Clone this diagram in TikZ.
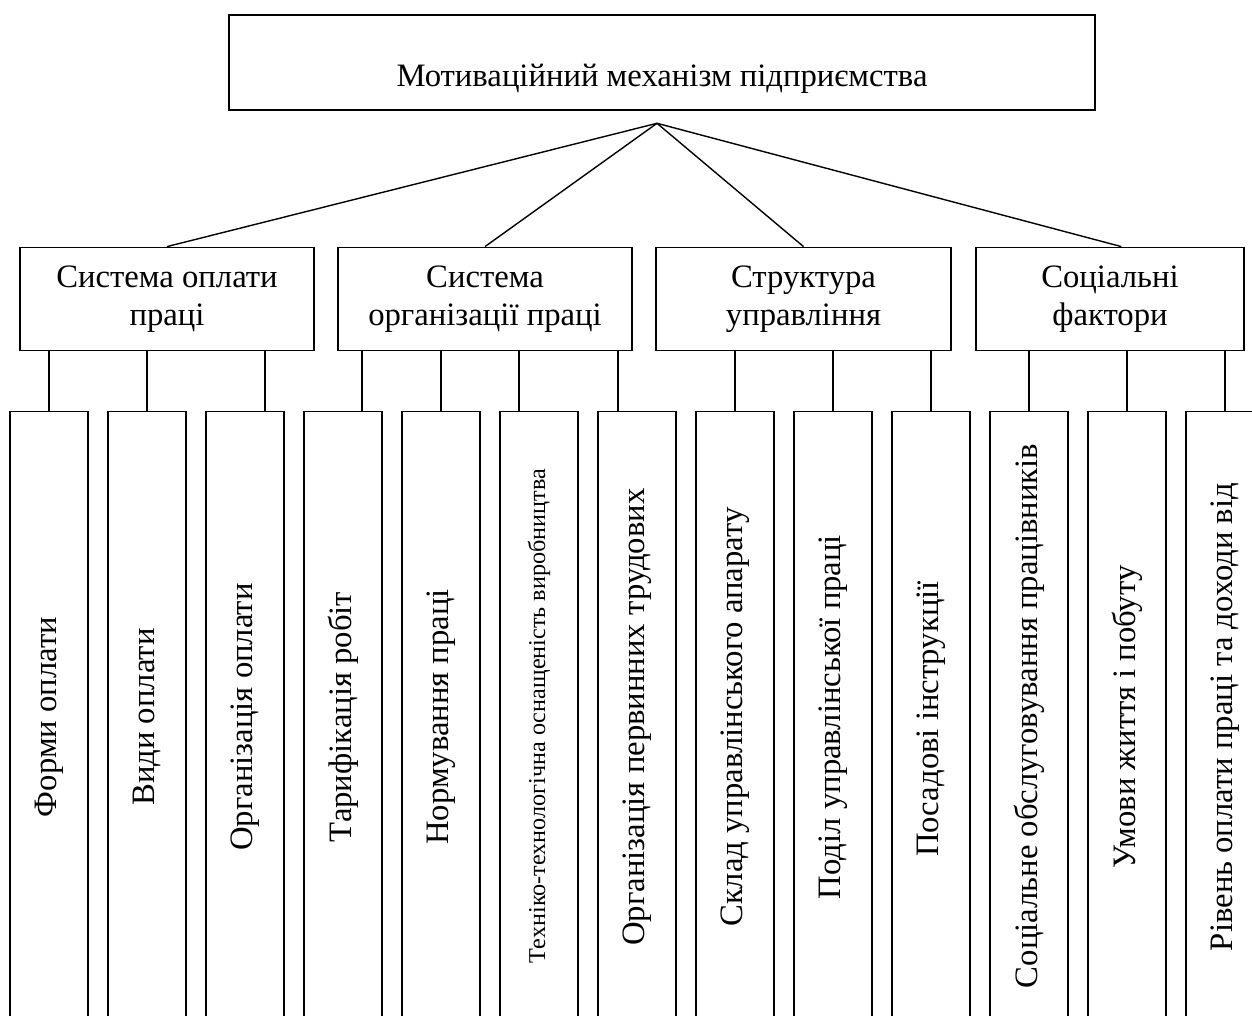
\documentclass[tikz,border=0pt]{standalone}
\usepackage{fontspec}
\setmainfont{Liberation Serif}
\usetikzlibrary{calc}
\tikzset{
  box/.style={draw, line width=1.4pt, rectangle, inner sep=0pt},
  lbox/.style={box, minimum width=78pt, minimum height=700pt, anchor=north},
  vtext/.style={rotate=90, inner sep=0pt, font=\fontsize{32.7}{38}\selectfont},
  link/.style={line width=1.4pt},
}
\begin{document}
\begin{tikzpicture}[x=1pt,y=-1pt]
\useasboundingbox (0,0) rectangle (1252,1016);
\clip (0,0) rectangle (1252,1016);
\fontsize{32.7}{38}\selectfont
% top
\node[box, minimum width=866pt, minimum height=95pt] (top) at (662,62.5) {};
\node[anchor=base, inner sep=0pt] (toptext) at ($(top.center)+(0,24.5)$) {Мотиваційний механізм підприємства};
\coordinate (apex) at (657,123.3);
% second level
\node[box, minimum width=294pt, minimum height=103.4pt, align=center] (s1) at (167,299) {Система оплати\\праці};
\node[box, minimum width=294pt, minimum height=103.4pt, align=center] (s2) at (485,299) {Система\\організації праці};
\node[box, minimum width=295pt, minimum height=103.4pt, align=center] (s3) at (803.5,299) {Структура\\управління};
\node[box, minimum width=268pt, minimum height=103.4pt, align=center] (s4) at (1110,299) {Соціальні\\фактори};
\draw[link] (apex) -- (s1.north);
\draw[link] (apex) -- (s2.north);
\draw[link] (apex) -- (s3.north);
\draw[link] (apex) -- ($(s4.north west)+(146,0)$);
% bottom level boxes
\foreach \i in {1,...,13} {
  \node[lbox] (b\i) at ({49+98*(\i-1)},410.7) {};
}
% texts
\node[vtext] (t1) at ($(b1.north)+(0,306.3)$) {Форми оплати};
\node[vtext] (t2) at ($(b2.north)+(0,306.3)$) {Види оплати};
\node[vtext] (t3) at ($(b3.north)+(0,306.3)$) {Організація оплати};
\node[vtext] (t4) at ($(b4.north)+(0,306.3)$) {Тарифікація робіт};
\node[vtext] (t5) at ($(b5.north)+(0,306.3)$) {Нормування праці};
\node[vtext, font=\fontsize{24.2}{28}\selectfont] (t6) at ($(b6.north)+(0,305.3)$) {Техніко-технологічна оснащеність виробництва};
\node[vtext] (t7) at ($(b7.north)+(0,306.3)$) {Організація первинних трудових};
\node[vtext] (t8) at ($(b8.north)+(0,306.3)$) {Склад управлінського апарату};
\node[vtext] (t9) at ($(b9.north)+(0,306.3)$) {Поділ управлінської праці};
\node[vtext] (t10) at ($(b10.north)+(0,308.3)$) {Посадові інструкції};
\node[vtext] (t11) at ($(b11.north)+(0,305.3)$) {Соціальне обслуговування працівників};
\node[vtext] (t12) at ($(b12.north)+(0,306.3)$) {Умови життя і побуту};
\node[vtext] (t13) at ($(b13.north)+(0,306.3)$) {Рівень оплати праці та доходи від};
% vertical connectors
\draw[link] (b1.north) -- (b1.north |- s1.south);
\draw[link] (b2.north) -- (b2.north |- s1.south);
\coordinate (c3) at ($(b3.north)+(20,0)$);
\draw[link] (c3) -- (c3 |- s1.south);
\coordinate (c4) at ($(b4.north)+(19,0)$);
\draw[link] (c4) -- (c4 |- s2.south);
\draw[link] (b5.north) -- (b5.north |- s2.south);
\coordinate (c6) at ($(b6.north)+(-20,0)$);
\draw[link] (c6) -- (c6 |- s2.south);
\coordinate (c7) at ($(b7.north)+(-19,0)$);
\draw[link] (c7) -- (c7 |- s2.south);
\draw[link] (b8.north) -- (b8.north |- s3.south);
\draw[link] (b9.north) -- (b9.north |- s3.south);
\draw[link] (b10.north) -- (b10.north |- s3.south);
\draw[link] (b11.north) -- (b11.north |- s4.south);
\draw[link] (b12.north) -- (b12.north |- s4.south);
\draw[link] (b13.north) -- (b13.north |- s4.south);
\end{tikzpicture}
\end{document}
